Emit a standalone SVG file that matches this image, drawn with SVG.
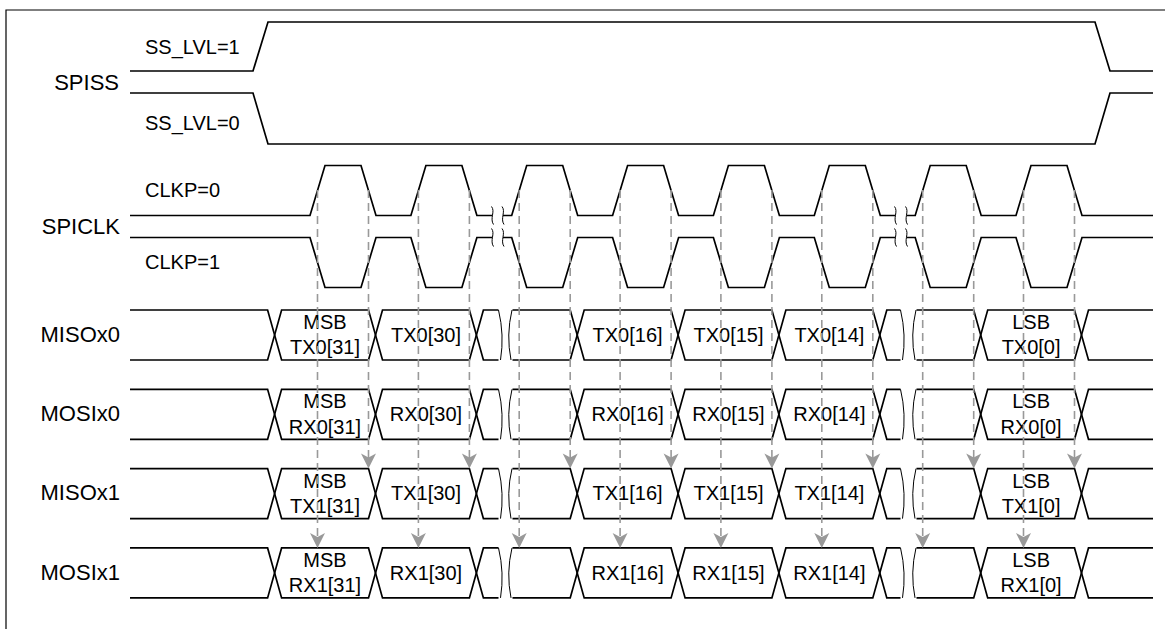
<svg xmlns="http://www.w3.org/2000/svg" xmlns:xlink="http://www.w3.org/1999/xlink" width="1165" height="629" viewBox="0 0 1165 629">
<style>
.bg{fill:#fff}
.frame{fill:none;stroke:#000;stroke-width:1.2}
.w{fill:none;stroke:#000;stroke-width:1.7;stroke-linejoin:miter}
.sq{fill:none;stroke:#000;stroke-width:1}
.lbl{font-family:"Liberation Sans",Arial,sans-serif;font-size:22px;fill:#000;text-anchor:end}
.sub{font-family:"Liberation Sans",Arial,sans-serif;font-size:20px;fill:#000}
.bt{font-family:"Liberation Sans",Arial,sans-serif;font-size:20px;fill:#000;text-anchor:middle}
.dash{fill:none;stroke:#999;stroke-width:1.6;stroke-dasharray:8 5}
.ah{fill:#999;stroke:none}
</style>
<defs>
<path id="arrow" class="ah" d="M-7.5,-15 L0,0 L7.5,-15 L0,-11 Z"/>
<path id="sqs" class="sq" d="M-1,-9 C3,-4 -3,3 1,9"/>
<path id="sqa" class="sq" d="M0,0 Q6,25 2,50"/>
<path id="sqb" class="sq" d="M2,0 Q-4,25 1,50"/>
</defs>
<rect class="bg" x="0" y="0" width="1165" height="629"/>
<path class="frame" d="M6,629 V10 H1165"/>

<g id="spiss">
<text class="lbl" x="119" y="89.5">SPISS</text>
<text class="sub" x="145" y="54.3">SS_LVL=1</text>
<text class="sub" x="145" y="130">SS_LVL=0</text>
<path class="w" d="M130,71 H253 L268,22 H1095 L1110,71 H1153"/>
<path class="w" d="M130,93 H253 L268,144 H1095 L1110,93 H1153"/>
</g>

<g id="spiclk">
<text class="lbl" x="120" y="234">SPICLK</text>
<text class="sub" x="145" y="197.3">CLKP=0</text>
<text class="sub" x="145" y="269.3">CLKP=1</text>
<path class="w" d="M130,215.5 H310 L325,165.5 H361 L376,215.5 H410.9 L425.9,165.5 H461.9 L476.9,215.5 H492"/>
<path class="w" d="M503,215.5 H511.7 L526.7,165.5 H562.7 L577.7,215.5 H612.6 L627.6,165.5 H663.6 L678.6,215.5 H713.4 L728.4,165.5 H764.4 L779.4,215.5 H814.3 L829.3,165.5 H865.3 L880.3,215.5 H895"/>
<path class="w" d="M907,215.5 H915.2 L930.2,165.5 H966.2 L981.2,215.5 H1016 L1031,165.5 H1067 L1082,215.5 H1153"/>
<path class="w" d="M130,237.5 H310 L325,287.5 H361 L376,237.5 H410.9 L425.9,287.5 H461.9 L476.9,237.5 H492"/>
<path class="w" d="M503,237.5 H511.7 L526.7,287.5 H562.7 L577.7,237.5 H612.6 L627.6,287.5 H663.6 L678.6,237.5 H713.4 L728.4,287.5 H764.4 L779.4,237.5 H814.3 L829.3,287.5 H865.3 L880.3,237.5 H895"/>
<path class="w" d="M907,237.5 H915.2 L930.2,287.5 H966.2 L981.2,237.5 H1016 L1031,287.5 H1067 L1082,237.5 H1153"/>
<use xlink:href="#sqs" x="492.5" y="215.5"/>
<use xlink:href="#sqs" x="503" y="215.5"/>
<use xlink:href="#sqs" x="492.5" y="237.5"/>
<use xlink:href="#sqs" x="503" y="237.5"/>
<use xlink:href="#sqs" x="895.5" y="215.5"/>
<use xlink:href="#sqs" x="906.5" y="215.5"/>
<use xlink:href="#sqs" x="895.5" y="237.5"/>
<use xlink:href="#sqs" x="906.5" y="237.5"/>
</g>

<g id="misox0">
<text class="lbl" x="120" y="341.7">MISOx0</text>
<g transform="translate(0,310)">
<path class="w" d="M130,0 H267.6 L281.6,50 H368.5 L382.5,0 H469.4 L483.4,50 H498.5"/>
<path class="w" d="M130,50 H267.6 L281.6,0 H368.5 L382.5,50 H469.4 L483.4,0 H498.5"/>
<path class="w" d="M512.5,0 H570.2 L584.2,50 H671.1 L685.1,0 H771.9 L785.9,50 H872.8 L886.8,0 H900.5"/>
<path class="w" d="M512.5,50 H570.2 L584.2,0 H671.1 L685.1,50 H771.9 L785.9,0 H872.8 L886.8,50 H900.5"/>
<path class="w" d="M916.5,0 H973.7 L987.7,50 H1074.5 L1088.5,0 H1153"/>
<path class="w" d="M916.5,50 H973.7 L987.7,0 H1074.5 L1088.5,50 H1153"/>
<use xlink:href="#sqa" x="498.5" y="0"/>
<use xlink:href="#sqb" x="510" y="0"/>
<use xlink:href="#sqa" x="900.5" y="0"/>
<use xlink:href="#sqb" x="914" y="0"/>
<text class="bt" x="325" y="19">MSB</text>
<text class="bt" x="325" y="44.3">TX0[31]</text>
<text class="bt" x="426" y="31.7">TX0[30]</text>
<text class="bt" x="627.6" y="31.7">TX0[16]</text>
<text class="bt" x="728.5" y="31.7">TX0[15]</text>
<text class="bt" x="829.4" y="31.7">TX0[14]</text>
<text class="bt" x="1031.1" y="19">LSB</text>
<text class="bt" x="1031.1" y="44.3">TX0[0]</text>
</g>
</g>

<g id="mosix0">
<text class="lbl" x="120" y="421">MOSIx0</text>
<g transform="translate(0,389.3)">
<path class="w" d="M130,0 H267.6 L281.6,50 H368.5 L382.5,0 H469.4 L483.4,50 H498.5"/>
<path class="w" d="M130,50 H267.6 L281.6,0 H368.5 L382.5,50 H469.4 L483.4,0 H498.5"/>
<path class="w" d="M512.5,0 H570.2 L584.2,50 H671.1 L685.1,0 H771.9 L785.9,50 H872.8 L886.8,0 H900.5"/>
<path class="w" d="M512.5,50 H570.2 L584.2,0 H671.1 L685.1,50 H771.9 L785.9,0 H872.8 L886.8,50 H900.5"/>
<path class="w" d="M916.5,0 H973.7 L987.7,50 H1074.5 L1088.5,0 H1153"/>
<path class="w" d="M916.5,50 H973.7 L987.7,0 H1074.5 L1088.5,50 H1153"/>
<use xlink:href="#sqa" x="498.5" y="0"/>
<use xlink:href="#sqb" x="510" y="0"/>
<use xlink:href="#sqa" x="900.5" y="0"/>
<use xlink:href="#sqb" x="914" y="0"/>
<text class="bt" x="325" y="19">MSB</text>
<text class="bt" x="325" y="44.3">RX0[31]</text>
<text class="bt" x="426" y="31.7">RX0[30]</text>
<text class="bt" x="627.6" y="31.7">RX0[16]</text>
<text class="bt" x="728.5" y="31.7">RX0[15]</text>
<text class="bt" x="829.4" y="31.7">RX0[14]</text>
<text class="bt" x="1031.1" y="19">LSB</text>
<text class="bt" x="1031.1" y="44.3">RX0[0]</text>
</g>
</g>

<g id="misox1">
<text class="lbl" x="120" y="500.3">MISOx1</text>
<g transform="translate(0,468.6)">
<path class="w" d="M130,0 H267.6 L281.6,50 H368.5 L382.5,0 H469.4 L483.4,50 H498.5"/>
<path class="w" d="M130,50 H267.6 L281.6,0 H368.5 L382.5,50 H469.4 L483.4,0 H498.5"/>
<path class="w" d="M512.5,0 H570.2 L584.2,50 H671.1 L685.1,0 H771.9 L785.9,50 H872.8 L886.8,0 H900.5"/>
<path class="w" d="M512.5,50 H570.2 L584.2,0 H671.1 L685.1,50 H771.9 L785.9,0 H872.8 L886.8,50 H900.5"/>
<path class="w" d="M916.5,0 H973.7 L987.7,50 H1074.5 L1088.5,0 H1153"/>
<path class="w" d="M916.5,50 H973.7 L987.7,0 H1074.5 L1088.5,50 H1153"/>
<use xlink:href="#sqa" x="498.5" y="0"/>
<use xlink:href="#sqb" x="510" y="0"/>
<use xlink:href="#sqa" x="900.5" y="0"/>
<use xlink:href="#sqb" x="914" y="0"/>
<text class="bt" x="325" y="19">MSB</text>
<text class="bt" x="325" y="44.3">TX1[31]</text>
<text class="bt" x="426" y="31.7">TX1[30]</text>
<text class="bt" x="627.6" y="31.7">TX1[16]</text>
<text class="bt" x="728.5" y="31.7">TX1[15]</text>
<text class="bt" x="829.4" y="31.7">TX1[14]</text>
<text class="bt" x="1031.1" y="19">LSB</text>
<text class="bt" x="1031.1" y="44.3">TX1[0]</text>
</g>
</g>

<g id="mosix1">
<text class="lbl" x="120" y="579.6">MOSIx1</text>
<g transform="translate(0,547.9)">
<path class="w" d="M130,0 H267.6 L281.6,50 H368.5 L382.5,0 H469.4 L483.4,50 H498.5"/>
<path class="w" d="M130,50 H267.6 L281.6,0 H368.5 L382.5,50 H469.4 L483.4,0 H498.5"/>
<path class="w" d="M512.5,0 H570.2 L584.2,50 H671.1 L685.1,0 H771.9 L785.9,50 H872.8 L886.8,0 H900.5"/>
<path class="w" d="M512.5,50 H570.2 L584.2,0 H671.1 L685.1,50 H771.9 L785.9,0 H872.8 L886.8,50 H900.5"/>
<path class="w" d="M916.5,0 H973.7 L987.7,50 H1074.5 L1088.5,0 H1153"/>
<path class="w" d="M916.5,50 H973.7 L987.7,0 H1074.5 L1088.5,50 H1153"/>
<use xlink:href="#sqa" x="498.5" y="0"/>
<use xlink:href="#sqb" x="510" y="0"/>
<use xlink:href="#sqa" x="900.5" y="0"/>
<use xlink:href="#sqb" x="914" y="0"/>
<text class="bt" x="325" y="19">MSB</text>
<text class="bt" x="325" y="44.3">RX1[31]</text>
<text class="bt" x="426" y="31.7">RX1[30]</text>
<text class="bt" x="627.6" y="31.7">RX1[16]</text>
<text class="bt" x="728.5" y="31.7">RX1[15]</text>
<text class="bt" x="829.4" y="31.7">RX1[14]</text>
<text class="bt" x="1031.1" y="19">LSB</text>
<text class="bt" x="1031.1" y="44.3">RX1[0]</text>
</g>
</g>

<g id="connectors">
<path class="dash" d="M317.5,190 V537 M418.4,190 V537 M519.2,190 V537 M620.1,190 V537 M720.9,190 V537 M821.8,190 V537 M922.7,190 V537 M1023.5,190 V537"/>
<path class="dash" d="M368.5,190 V458 M469.4,190 V458 M570.2,190 V458 M671.1,190 V458 M771.9,190 V458 M872.8,190 V458 M973.7,190 V458 M1074.5,190 V458"/>
<use xlink:href="#arrow" x="317.5" y="547.9"/>
<use xlink:href="#arrow" x="418.4" y="547.9"/>
<use xlink:href="#arrow" x="519.2" y="547.9"/>
<use xlink:href="#arrow" x="620.1" y="547.9"/>
<use xlink:href="#arrow" x="720.9" y="547.9"/>
<use xlink:href="#arrow" x="821.8" y="547.9"/>
<use xlink:href="#arrow" x="922.7" y="547.9"/>
<use xlink:href="#arrow" x="1023.5" y="547.9"/>
<use xlink:href="#arrow" x="368.5" y="468.6"/>
<use xlink:href="#arrow" x="469.4" y="468.6"/>
<use xlink:href="#arrow" x="570.2" y="468.6"/>
<use xlink:href="#arrow" x="671.1" y="468.6"/>
<use xlink:href="#arrow" x="771.9" y="468.6"/>
<use xlink:href="#arrow" x="872.8" y="468.6"/>
<use xlink:href="#arrow" x="973.7" y="468.6"/>
<use xlink:href="#arrow" x="1074.5" y="468.6"/>
</g>
</svg>
